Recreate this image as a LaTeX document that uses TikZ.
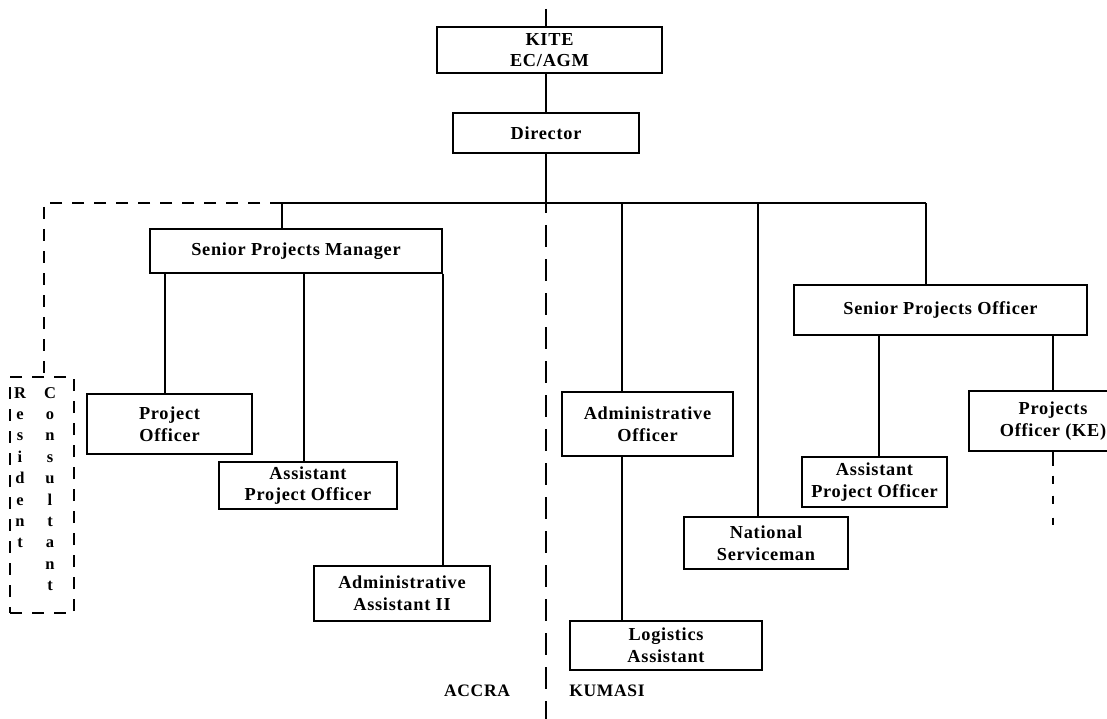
\documentclass[tikz,border=0pt]{standalone}
\usepackage{fontspec}
\setmainfont{Liberation Serif}[LetterSpace=4]
\begin{document}
\begin{tikzpicture}[x=1pt,y=-1pt,
  box/.style={draw, line width=1.3pt, align=center, inner sep=1pt,
    font=\bfseries\fontsize{18.3}{21.6}\selectfont},
  conn/.style={line width=1.3pt},
  dconn/.style={line width=1.3pt, dash pattern=on 12pt off 10pt},
  cdash/.style={line width=1.3pt, dash pattern=on 22pt off 12pt, dash phase=12pt},
  lbl/.style={font=\bfseries\fontsize{17.5}{20}\selectfont, inner sep=0pt},
  vlet/.style={align=center, inner sep=0pt, font=\bfseries\fontsize{16.5}{21.4}\selectfont}]
\useasboundingbox (0,0) rectangle (1107,719);
\clip (0,0) rectangle (1107,719);
\fill[white] (0,0) rectangle (1107,719);

% boxes
\node[box, minimum width=225pt, minimum height=46pt] (kite) at (549.5,50) {KITE\\EC/AGM};
\node[box, minimum width=186pt, minimum height=40pt] (dir) at (546,133) {Director};
\node[box, minimum width=292pt, minimum height=44pt] (spm) at (296,251) {Senior Projects Manager};
\node[box, minimum width=165pt, minimum height=60pt] (po) at (169.5,424) {Project\\Officer};
\node[box, minimum width=178pt, minimum height=47pt] (apoa) at (308,485.5) {Assistant\\Project Officer};
\node[box, minimum width=176pt, minimum height=55pt] (aa) at (402,593.5) {Administrative\\Assistant II};
\node[box, minimum width=171pt, minimum height=64pt] (ao) at (647.5,424) {Administrative\\Officer};
\node[box, minimum width=164pt, minimum height=52pt] (ns) at (766,543) {National\\Serviceman};
\node[box, minimum width=192pt, minimum height=49pt] (la) at (666,645.5) {Logistics\\Assistant};
\node[box, minimum width=293pt, minimum height=50pt] (spo) at (940.5,310) {Senior Projects Officer};
\node[box, minimum width=145pt, minimum height=50pt] (apob) at (874.5,482) {Assistant\\Project Officer};
\node[box, minimum width=168pt, minimum height=60pt] (ke) at (1053,421) {Projects\\Officer (KE)};

% resident consultant box
\node[draw, dconn, minimum width=64pt, minimum height=236pt, inner sep=0pt] (rc) at (42,495) {};
\node[vlet, anchor=north] (res) at (20,387) {R\\e\\s\\i\\d\\e\\n\\t};
\node[vlet, anchor=north] (con) at (50,387) {C\\o\\n\\s\\u\\l\\t\\a\\n\\t};

% labels
\node[lbl] (accra) at (477,691) {ACCRA};
\node[lbl] (kumasi) at (607,691) {KUMASI};

% coordinates
\coordinate (top) at (546,9);
\coordinate (hub) at (546,203);
\coordinate (hspm) at (282,203);
\coordinate (hao) at (622,203);
\coordinate (hns) at (758,203);
\coordinate (hspo) at (926,203);
\coordinate (hleft) at (44,203);
\coordinate (bot) at (546,719);
\coordinate (keend) at (1053,525);

% connectors
\draw[conn] (top) -- (top |- kite.north);
\draw[conn] (dir.north) -- (dir.north |- kite.south);
\draw[conn] (dir.south) -- (hub);
\draw[conn] (hspm) -- (hspo);
\draw[conn] (hspm) -- (hspm |- spm.north);
\draw[conn] (hao) -- (hao |- ao.north);
\draw[conn] (hns) -- (hns |- ns.north);
\draw[conn] (hspo) -- (hspo |- spo.north);
\draw[dconn] (hspm) -- (hleft) -- (hleft |- rc.north);
\draw[cdash] (hub) -- (bot);

\draw[conn] ([xshift=-131pt]spm.south) -- ([xshift=-131pt]spm.south |- po.north);
\draw[conn] ([xshift=8pt]spm.south) -- ([xshift=8pt]spm.south |- apoa.north);
\draw[conn] ([xshift=147pt]spm.south) -- ([xshift=147pt]spm.south |- aa.north);
\draw[conn] ([xshift=-25.5pt]ao.south) -- ([xshift=-25.5pt]ao.south |- la.north);
\draw[conn] ([xshift=-61.5pt]spo.south) -- ([xshift=-61.5pt]spo.south |- apob.north);
\draw[conn] ([xshift=112.5pt]spo.south) -- ([xshift=112.5pt]spo.south |- ke.north);
\draw[line width=1.3pt, dash pattern=on 14pt off 10pt on 8pt off 12pt on 8pt] (ke.south) -- (keend);
\end{tikzpicture}
\end{document}
